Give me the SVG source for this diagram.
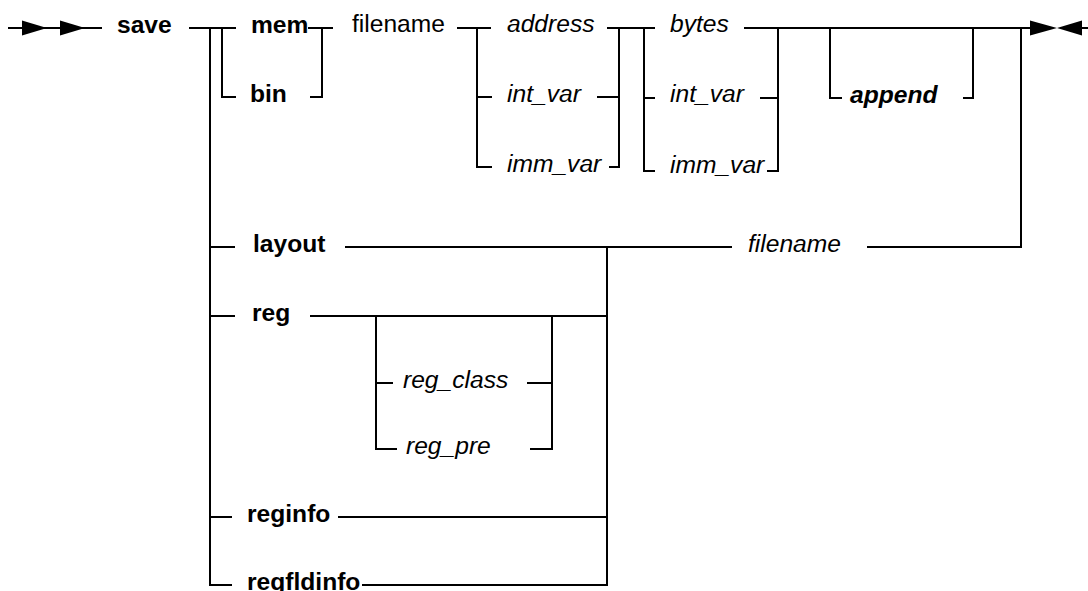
<svg xmlns="http://www.w3.org/2000/svg" width="1088" height="591" viewBox="0 0 1088 591">
<style>
text{font-family:"Liberation Sans",Arial,Helvetica,sans-serif;font-size:24.6px;fill:#000}
.b{font-weight:bold}
.i{font-style:italic}
.bi{font-weight:bold;font-style:italic}
#connectors line,#connectors path{stroke:#000;stroke-width:2;fill:none}
.arr{fill:#000;stroke:none}
</style>
<rect width="1088" height="591" fill="#fff"/>
<g id="connectors">
<line x1="8" y1="28" x2="102" y2="28"/>
<polygon class="arr" points="22,20.5 47,28 22,35.5"/>
<polygon class="arr" points="60,20.5 85,28 60,35.5"/>
<line x1="189" y1="28" x2="236" y2="28"/>
<line x1="210" y1="27" x2="210" y2="586"/>
<path d="M222,27 V97 H236"/>
<line x1="308" y1="28" x2="333" y2="28"/>
<path d="M310,97 H322 V27"/>
<line x1="457" y1="28" x2="491" y2="28"/>
<path d="M477,27 V167 H492 M477,97 H492"/>
<line x1="607" y1="28" x2="655" y2="28"/>
<path d="M619,27 V167 H609 M619,97 H597"/>
<path d="M644,27 V171 H655 M644,98 H655"/>
<line x1="744" y1="28" x2="1030" y2="28"/>
<path d="M778,27 V171 H767 M778,98 H760"/>
<path d="M830,27 V98 H842"/>
<path d="M963,98 H973 V27"/>
<line x1="1021" y1="28" x2="1021" y2="248"/>
<polygon class="arr" points="1030,20.5 1057,28 1030,35.5"/>
<polygon class="arr" points="1082,20.5 1057,28 1082,35.5"/>
<line x1="1082" y1="28" x2="1088" y2="28"/>
<line x1="210" y1="247" x2="235" y2="247"/>
<line x1="345" y1="247" x2="732" y2="247"/>
<line x1="867" y1="247" x2="1022" y2="247"/>
<line x1="607" y1="246" x2="607" y2="586"/>
<line x1="210" y1="316" x2="235" y2="316"/>
<line x1="310" y1="316" x2="607" y2="316"/>
<line x1="376" y1="315" x2="376" y2="450"/>
<line x1="552" y1="315" x2="552" y2="450"/>
<line x1="376" y1="383" x2="393" y2="383"/>
<line x1="527" y1="383" x2="552" y2="383"/>
<line x1="376" y1="449" x2="397" y2="449"/>
<line x1="530" y1="449" x2="552" y2="449"/>
<line x1="210" y1="517" x2="232" y2="517"/>
<line x1="338" y1="517" x2="607" y2="517"/>
<line x1="209" y1="585" x2="232" y2="585"/>
<line x1="362" y1="585" x2="608" y2="585"/>
</g>
<g id="n-save"><text class="b" x="117" y="33">save</text></g>
<g id="n-mem"><text class="b" x="251" y="33">mem</text></g>
<g id="n-bin"><text class="b" x="250" y="102">bin</text></g>
<g id="n-filename1"><text x="352" y="32">filename</text></g>
<g id="n-address"><text class="i" x="507" y="32">address</text></g>
<g id="n-int_var1"><text class="i" x="507" y="102">int_var</text></g>
<g id="n-imm_var1"><text class="i" x="507" y="172">imm_var</text></g>
<g id="n-bytes"><text class="i" x="670" y="32">bytes</text></g>
<g id="n-int_var2"><text class="i" x="670" y="102">int_var</text></g>
<g id="n-imm_var2"><text class="i" x="670" y="173">imm_var</text></g>
<g id="n-append"><text class="bi" x="850" y="103">append</text></g>
<g id="n-layout"><text class="b" x="253" y="252">layout</text></g>
<g id="n-filename2"><text class="i" x="748" y="252">filename</text></g>
<g id="n-reg"><text class="b" x="252" y="321">reg</text></g>
<g id="n-reg_class"><text class="i" x="403" y="388">reg_class</text></g>
<g id="n-reg_pre"><text class="i" x="406" y="454">reg_pre</text></g>
<g id="n-reginfo"><text class="b" x="247" y="522">reginfo</text></g>
<g id="n-regfldinfo"><text class="b" x="247" y="590">regfldinfo</text></g>
</svg>
